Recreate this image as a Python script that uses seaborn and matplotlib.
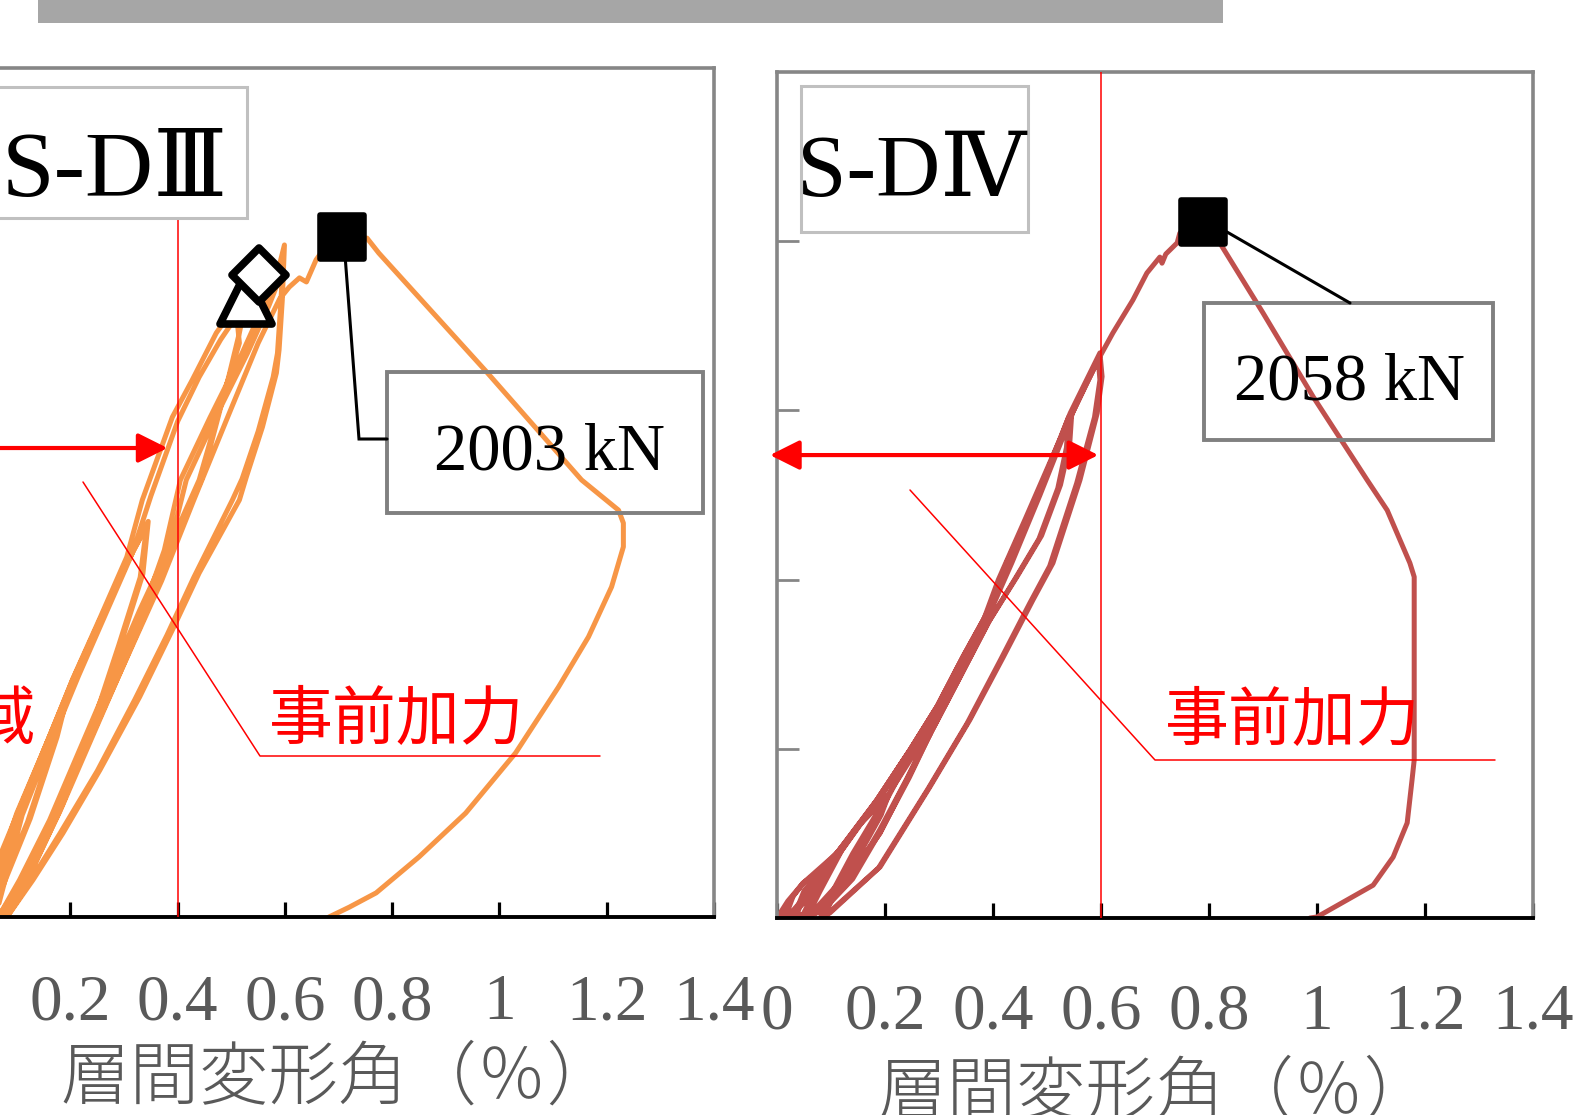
import numpy as np
import pandas as pd
import matplotlib
matplotlib.use("Agg")
import matplotlib.pyplot as plt
from matplotlib.patches import Rectangle
from matplotlib.markers import MarkerStyle
import seaborn as sns

# ---------------------------------------------------------------
# Load path of specimen S-DIII: story drift angle (%) vs shear (kN)
# ---------------------------------------------------------------
diii_drift = [
    0, 0.05, 0.10, 0.148, 0.19, 0.17, 0.12, 0.07, 0.03,
    0.07, 0.11, 0.15, 0.195, 0.175, 0.125, 0.075, 0.035,
    0.10, 0.148, 0.204, 0.255, 0.305, 0.342, 0.33, 0.29, 0.24, 0.18, 0.12, 0.07, 0.05,
    0.105, 0.152, 0.207, 0.258, 0.308, 0.345, 0.335, 0.295, 0.245, 0.185, 0.125, 0.075, 0.055,
    0.10, 0.148, 0.204, 0.255, 0.305, 0.334, 0.39, 0.427, 0.472, 0.502, 0.526, 0.515, 0.495,
    0.44, 0.39, 0.329, 0.273, 0.217, 0.161, 0.105, 0.07, 0.06,
    0.11, 0.16, 0.215, 0.265, 0.315, 0.35, 0.40, 0.44, 0.48, 0.51, 0.515, 0.49, 0.445,
    0.395, 0.335, 0.28, 0.222, 0.166, 0.11, 0.075, 0.065,
    0.12, 0.17, 0.225, 0.28, 0.335, 0.375, 0.405, 0.46, 0.52, 0.56, 0.585, 0.599, 0.595,
    0.589, 0.584, 0.558, 0.528, 0.515, 0.44, 0.39, 0.329, 0.255, 0.186, 0.13, 0.087, 0.08,
    0.125, 0.18, 0.235, 0.29, 0.345, 0.385, 0.416, 0.47, 0.53, 0.57, 0.59, 0.597, 0.592,
    0.586, 0.578, 0.55, 0.52, 0.502, 0.43, 0.38, 0.32, 0.25, 0.18, 0.125, 0.085, 0.08,
    0.13, 0.19, 0.25, 0.31, 0.37, 0.43, 0.49, 0.55, 0.59, 0.608, 0.627, 0.64, 0.658, 0.667,
    0.706, 0.753, 0.775, 0.976, 1.153, 1.222, 1.231, 1.231, 1.209, 1.166, 1.11, 1.03,
    0.937, 0.85, 0.77, 0.72, 0.682,
]
diii_load = [
    0, 110, 300, 483, 640, 520, 280, 90, 0,
    130, 320, 490, 655, 530, 290, 95, 0,
    306, 483, 698, 875, 1042, 1150, 1000, 800, 560, 320, 120, 10, 0,
    300, 490, 700, 880, 1050, 1165, 1010, 810, 570, 330, 125, 12, 0,
    290, 480, 700, 880, 1060, 1228, 1472, 1581, 1720, 1787, 1808, 1720, 1590,
    1287, 1110, 903, 698, 492, 285, 109, 12, 0,
    300, 500, 710, 890, 1070, 1240, 1460, 1590, 1700, 1770, 1690, 1560, 1290,
    1115, 905, 700, 490, 280, 105, 10, 0,
    130, 300, 500, 700, 900, 1080, 1287, 1470, 1660, 1800, 1890, 1979, 1817,
    1670, 1602, 1443, 1296, 1228, 1013, 845, 648, 433, 247, 109, 12, 0,
    130, 310, 510, 710, 910, 1090, 1287, 1470, 1660, 1800, 1880, 1950, 1800,
    1660, 1590, 1430, 1290, 1228, 1000, 830, 640, 430, 245, 105, 8, 0,
    150, 360, 570, 780, 990, 1228, 1460, 1690, 1820, 1855, 1882, 1870, 1935, 1955,
    2003, 1999, 1955, 1605, 1287, 1198, 1160, 1090, 972, 825, 677, 483,
    306, 177, 71, 29, 0,
]

# ---------------------------------------------------------------
# Load path of specimen S-DIV
# ---------------------------------------------------------------
div_drift = [
    0, 0.02, 0.048, 0.08, 0.07, 0.045, 0.02, 0.01,
    0.025, 0.05, 0.085, 0.075, 0.05, 0.025, 0.015,
    0.03, 0.048, 0.111, 0.15, 0.204, 0.19, 0.15, 0.11, 0.07, 0.03,
    0.05, 0.08, 0.115, 0.155, 0.207, 0.193, 0.155, 0.115, 0.075, 0.035,
    0.05, 0.111, 0.185, 0.246, 0.296, 0.28, 0.24, 0.19, 0.135, 0.08, 0.045,
    0.07, 0.12, 0.19, 0.25, 0.3, 0.284, 0.245, 0.195, 0.14, 0.085, 0.05,
    0.07, 0.111, 0.185, 0.246, 0.296, 0.344, 0.389, 0.425, 0.481, 0.546, 0.542,
    0.525, 0.49, 0.445, 0.394, 0.333, 0.278, 0.191, 0.111, 0.056, 0.05,
    0.075, 0.118, 0.19, 0.25, 0.3, 0.348, 0.392, 0.43, 0.485, 0.54, 0.536,
    0.52, 0.485, 0.44, 0.39, 0.33, 0.274, 0.188, 0.108, 0.06, 0.055,
    0.08, 0.12, 0.185, 0.246, 0.296, 0.344, 0.389, 0.43, 0.481, 0.543, 0.598, 0.602,
    0.593, 0.561, 0.511, 0.474, 0.419, 0.357, 0.283, 0.191, 0.098, 0.08,
    0.1, 0.14, 0.2, 0.26, 0.31, 0.355, 0.395, 0.435, 0.487, 0.548, 0.595, 0.598,
    0.588, 0.555, 0.505, 0.468, 0.413, 0.352, 0.279, 0.188, 0.095, 0.085,
    0.11, 0.16, 0.22, 0.28, 0.33, 0.38, 0.41, 0.46, 0.52, 0.57, 0.6, 0.622, 0.659,
    0.685, 0.709, 0.713, 0.72, 0.741, 0.746, 0.76, 0.789, 0.82, 0.9, 0.993, 1.093,
    1.13, 1.172, 1.18, 1.18, 1.176, 1.167, 1.141, 1.104, 1.0, 0.987,
]
div_load = [
    0, 50, 103, 140, 100, 50, 5, 0,
    55, 105, 145, 100, 45, 5, 0,
    65, 103, 192, 270, 360, 300, 190, 95, 25, 0,
    80, 140, 200, 280, 365, 305, 195, 100, 28, 0,
    70, 192, 349, 496, 624, 540, 410, 260, 110, 20, 0,
    80, 200, 355, 500, 630, 545, 415, 265, 115, 22, 0,
    70, 192, 349, 496, 624, 771, 901, 1049, 1244, 1495, 1400,
    1280, 1130, 1010, 880, 694, 526, 251, 74, 3, 0,
    75, 200, 355, 500, 630, 775, 905, 1050, 1250, 1480, 1390,
    1270, 1120, 1000, 870, 685, 515, 245, 70, 4, 0,
    80, 200, 349, 496, 624, 771, 901, 1049, 1244, 1492, 1670, 1600,
    1492, 1294, 1049, 940, 771, 585, 387, 151, 15, 0,
    70, 190, 350, 500, 630, 775, 905, 1050, 1250, 1495, 1650, 1590,
    1480, 1285, 1040, 930, 760, 575, 380, 148, 14, 0,
    80, 220, 400, 570, 720, 870, 1000, 1180, 1400, 1570, 1665, 1729, 1826,
    1906, 1953, 1935, 1962, 1995, 2024, 2045, 2058, 1995, 1788, 1540, 1294,
    1205, 1049, 1008, 467, 408, 281, 180, 97, 3, 0,
]

# Marked points (drift %, shear kN)
diii_peak = (0.706, 2003)
diii_triangle = (0.528, 1823)
diii_diamond = (0.551, 1890)
div_peak = (0.789, 2058)

# Pre-loading limit lines and the arrows showing the range
diii_limit, div_limit = 0.4, 0.6
diii_limit_top, div_limit_top = 2070, 2500
diii_arrow = (0.381, 1381)      # arrow end drift, arrow level
div_arrow = (0.595, 1368)

x_ticks = [0, 0.2, 0.4, 0.6, 0.8, 1.0, 1.2, 1.4]
x_tick_labels = ["0", "0.2", "0.4", "0.6", "0.8", "1", "1.2", "1.4"]
y_ticks = [500, 1000, 1500, 2000]
specimen_names = ["S-DⅢ", "S-DⅣ"]
x_title = "層間変形角（％）"
preload_note = "事前加力"
range_note = "弾性領域"

ORANGE = "#F79646"
BRICK = "#C0504D"
GRAY_TXT = "#595959"
FRAME = "#868686"

W, H = 1575, 1115
sns.set_theme(style="white")
plt.rcParams["font.family"] = ["Liberation Serif", "DejaVu Serif", "Noto Sans CJK JP"]
CJK = ["Noto Sans CJK JP", "DejaVu Sans"]

fig = plt.figure(figsize=(W / 100, H / 100), dpi=100)
fig.patch.set_facecolor("white")


def px_axes(left, top, right, bottom):
    return fig.add_axes([left / W, 1 - bottom / H, (right - left) / W, (bottom - top) / H])


ax_l = px_axes(-36.8, 68, 714, 917)
ax_r = px_axes(777, 72, 1533, 918)


def style_axis(ax, pad, label_y):
    ax.set_xlim(0, 1.4)
    ax.set_ylim(0, 2500)
    ax.set_xticks(x_ticks)
    ax.set_xticklabels(x_tick_labels)
    ax.set_yticks(y_ticks)
    ax.set_yticklabels([])
    for side in ("left", "top", "right"):
        ax.spines[side].set_color(FRAME)
        ax.spines[side].set_linewidth(2.6)
    ax.spines["bottom"].set_color("black")
    ax.spines["bottom"].set_linewidth(2.8)
    ax.tick_params(axis="x", bottom=True, direction="in", length=10.5, width=2.3,
                   color="black", pad=pad, labelsize=47, labelcolor=GRAY_TXT)
    ax.tick_params(axis="y", left=True, direction="in", length=16, width=2.0,
                   color=FRAME, labelleft=False)
    ax.set_xlabel(x_title, fontsize=50, color=GRAY_TXT, family=CJK, fontweight="light")
    ax.xaxis.set_label_coords(0.5, label_y)
    ax.set_ylabel("")
    ax.grid(False)


panels = [
    (ax_l, diii_drift, diii_load, ORANGE, diii_limit, diii_limit_top, diii_arrow, 41, -0.149),
    (ax_r, div_drift, div_load, BRICK, div_limit, div_limit_top, div_arrow, 47, -0.166),
]
for ax, drift, load, color, limit, limit_top, arrow, pad, label_y in panels:
    df = pd.DataFrame({"drift": drift, "load": load})
    sns.lineplot(data=df, x="drift", y="load", sort=False, estimator=None,
                 color=color, ax=ax, legend=False)
    for ln in ax.lines:
        ln.set_linewidth(3.6)
        ln.set_solid_joinstyle("round")
        ln.set_solid_capstyle("round")
    style_axis(ax, pad, label_y)
    ax.plot([limit, limit], [0, limit_top], color="red", lw=1.1, zorder=3)
    ax.annotate("", xy=(arrow[0], arrow[1]), xytext=(-0.013, arrow[1]),
                arrowprops=dict(arrowstyle="<|-|>,head_length=0.9,head_width=0.45",
                                color="red", lw=3, shrinkA=0, shrinkB=0,
                                mutation_scale=20),
                annotation_clip=False, zorder=4)

# Event markers on S-DIII
ax_l.plot(*diii_triangle, marker=MarkerStyle("^", joinstyle="round"), ms=38,
          mfc="white", mec="black", mew=5.5, zorder=6, clip_on=False)
ax_l.plot(*diii_diamond, marker=MarkerStyle("D", joinstyle="round"), ms=28,
          mfc="white", mec="black", mew=5.5, zorder=7, clip_on=False)
square = MarkerStyle("s", joinstyle="round")
ax_l.plot(*diii_peak, marker=square, ms=31, mfc="black", mec="black", mew=4,
          zorder=8, clip_on=False)
ax_r.plot(*div_peak, marker=square, ms=31, mfc="black", mec="black", mew=4,
          zorder=8, clip_on=False)

# ---------------------------------------------------------------
# Overlay in figure pixels: header bar, name tags, callouts
# ---------------------------------------------------------------
ov = fig.add_axes([0, 0, 1, 1])
ov.set_xlim(0, W)
ov.set_ylim(H, 0)
ov.axis("off")

ov.add_patch(Rectangle((38, 0), 1185, 23, fc="#a6a6a6", ec="none"))

# specimen name tags
ov.add_patch(Rectangle((-20, 87), 267, 131, fc="white", ec="#c0c0c0", lw=2.2))
ov.add_patch(Rectangle((801, 86), 227, 146, fc="white", ec="#c0c0c0", lw=2.2))
ov.text(2, 196, specimen_names[0], fontsize=68, ha="left", va="baseline", color="black")
ov.text(797, 196, specimen_names[1], fontsize=64, ha="left", va="baseline", color="black")

# peak value callouts
ov.add_patch(Rectangle((387, 372), 316, 141, fill=False, ec="#808080", lw=2.8))
ov.plot([345, 359, 387], [255, 439, 439], color="black", lw=2.2, solid_joinstyle="miter")
ov.text(549, 470, f"{diii_peak[1]} kN", fontsize=48, ha="center", va="baseline", color="black")

ov.add_patch(Rectangle((1204, 303), 289, 137, fill=False, ec="#808080", lw=2.8))
ov.plot([1227, 1350], [232, 303], color="black", lw=2.2)
ov.text(1350, 400, f"{div_peak[1]} kN", fontsize=48, ha="center", va="baseline", color="black")

# pre-loading notes
ov.plot([83, 260, 600], [482, 756, 756], color="red", lw=1.1)
ov.plot([910, 1155, 1495], [490, 760, 760], color="red", lw=1.1)
ov.text(269, 721, preload_note, fontsize=46, ha="left", va="center", color="red", family=CJK)
ov.text(1165, 722, preload_note, fontsize=46, ha="left", va="center", color="red", family=CJK)
ov.text(36, 720, range_note, fontsize=46, ha="right", va="center", color="red", family=CJK)

fig.savefig("out.png", dpi=100, facecolor="white")
